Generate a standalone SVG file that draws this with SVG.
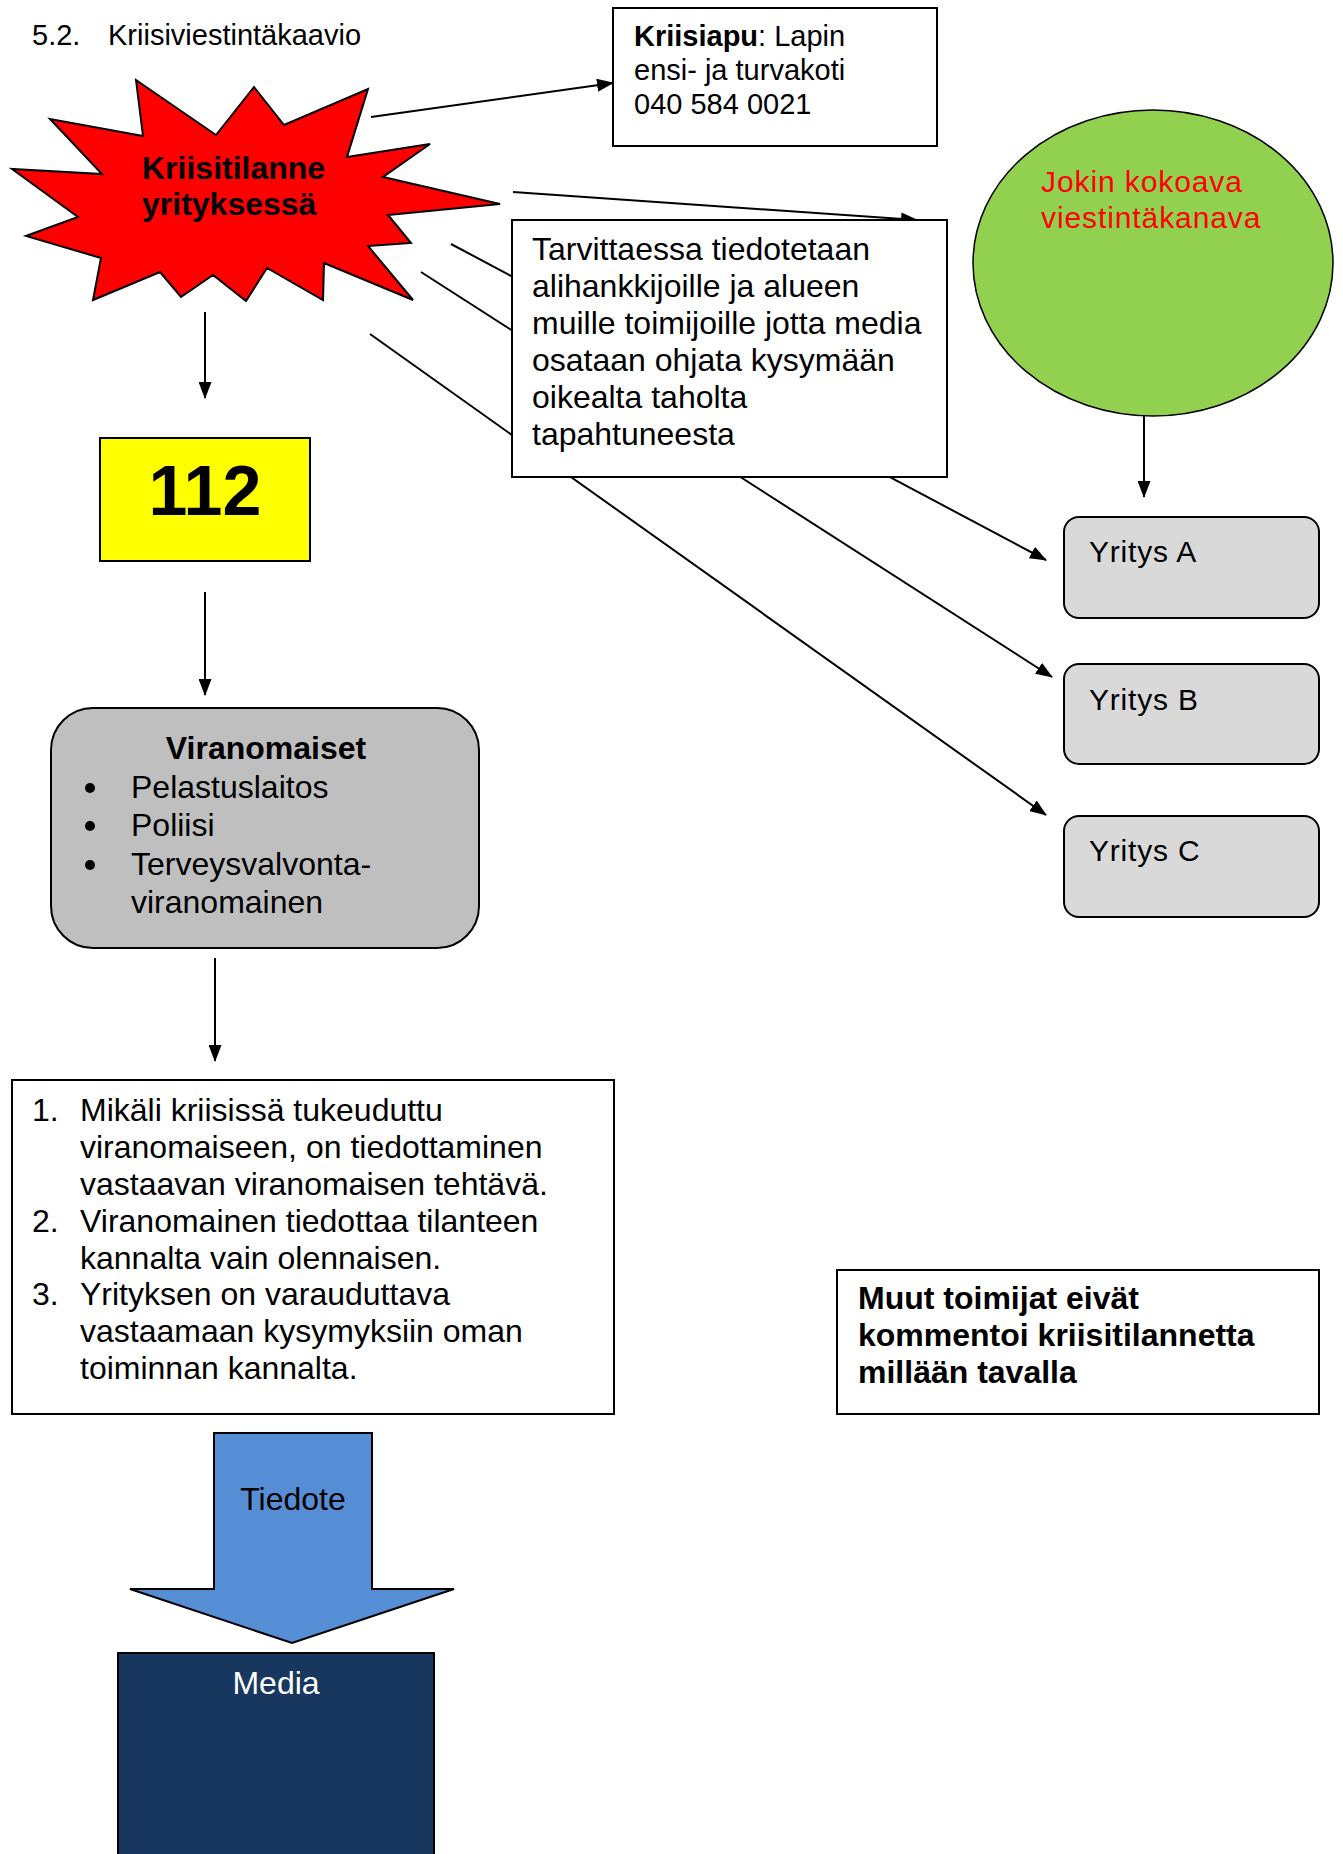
<svg xmlns="http://www.w3.org/2000/svg" width="1343" height="1854" viewBox="0 0 1343 1854">
<style>
text{font-family:"Liberation Sans",Arial,sans-serif;fill:#000}
.t{font-size:32px}
.b{font-weight:bold}
.box{fill:#fff;stroke:#000;stroke-width:2}
.con{stroke:#000;stroke-width:2;fill:none;marker-end:url(#ah)}
.yr{fill:#D9D9D9;stroke:#000;stroke-width:2}
</style>
<defs>
<marker id="ah" markerUnits="userSpaceOnUse" markerWidth="17" markerHeight="13" refX="16" refY="6.5" orient="auto">
<path d="M0,0 L17,6.5 L0,13 Z" fill="#000"/>
</marker>
</defs>
<rect width="1343" height="1854" fill="#fff"/>
<text x="32" y="45" style="font-size:29px">5.2.</text>
<text x="108" y="45" style="font-size:29px">Kriisiviestintäkaavio</text>

<g id="connectors">
<line class="con" x1="371" y1="117" x2="613" y2="83"/>
<line class="con" x1="513" y1="192" x2="917" y2="220"/>
<line class="con" x1="451" y1="244" x2="1046" y2="560"/>
<line class="con" x1="421" y1="272" x2="1052" y2="677"/>
<line class="con" x1="370" y1="334" x2="1046" y2="815"/>
<line class="con" x1="1144" y1="402" x2="1144" y2="497"/>
<line class="con" x1="205" y1="312" x2="205" y2="398"/>
<line class="con" x1="205" y1="592" x2="205" y2="695"/>
<line class="con" x1="215" y1="958" x2="215" y2="1061"/>
</g>

<g id="kriisitilanne">
<polygon points="136,80 143,136 50,119 102,174 12,169 78,217 26,236 101,258 93,300 160,272 181,297 213,275 246,301 267,268 323,300 324,263 413,300 368,246 411,243 388,215 500,204 383,177 430,144 347,157 368,89 284,125 254,87 216,135" fill="#FF0000" stroke="#000" stroke-width="2"/>
<text class="t b" x="142" y="179">Kriisitilanne</text>
<text class="t b" x="142" y="215">yrityksessä</text>
</g>

<g id="kriisiapu">
<rect class="box" x="613" y="8" width="324" height="138"/>
<text x="634" y="46" style="font-size:29px"><tspan font-weight="bold">Kriisiapu</tspan>: Lapin</text>
<text x="634" y="80" style="font-size:29px">ensi- ja turvakoti</text>
<text x="634" y="114" style="font-size:29px">040 584 0021</text>
</g>

<g id="tarvittaessa">
<rect class="box" x="512" y="220" width="435" height="257"/>
<text class="t" x="532" y="260">Tarvittaessa tiedotetaan</text>
<text class="t" x="532" y="297">alihankkijoille ja alueen</text>
<text class="t" x="532" y="334">muille toimijoille jotta media</text>
<text class="t" x="532" y="371">osataan ohjata kysymään</text>
<text class="t" x="532" y="408">oikealta taholta</text>
<text class="t" x="532" y="445">tapahtuneesta</text>
</g>

<g id="kanava">
<ellipse cx="1153" cy="263" rx="180" ry="153" fill="#92D050" stroke="#000" stroke-width="1.5"/>
<text x="1041" y="192" style="font-size:30px;fill:#FF0000;letter-spacing:0.9px">Jokin kokoava</text>
<text x="1041" y="228" style="font-size:30px;fill:#FF0000;letter-spacing:0.9px">viestintäkanava</text>
</g>

<g id="yritysA">
<rect class="yr" x="1064" y="517" width="255" height="101" rx="15"/>
<text x="1089" y="562" style="font-size:30px;letter-spacing:0.8px">Yritys A</text>
</g>
<g id="yritysB">
<rect class="yr" x="1064" y="664" width="255" height="100" rx="15"/>
<text x="1089" y="710" style="font-size:30px;letter-spacing:0.8px">Yritys B</text>
</g>
<g id="yritysC">
<rect class="yr" x="1064" y="816" width="255" height="101" rx="15"/>
<text x="1089" y="861" style="font-size:30px;letter-spacing:0.8px">Yritys C</text>
</g>

<g id="n112">
<rect x="100" y="438" width="210" height="123" fill="#FFFF00" stroke="#000" stroke-width="2"/>
<text x="205" y="515" text-anchor="middle" style="font-size:70px;font-weight:bold">112</text>
</g>

<g id="viranomaiset">
<rect x="51" y="708" width="428" height="240" rx="42" fill="#BFBFBF" stroke="#000" stroke-width="2"/>
<text class="t b" x="266" y="759" text-anchor="middle">Viranomaiset</text>
<circle cx="90" cy="788" r="5"/>
<circle cx="90" cy="826" r="5"/>
<circle cx="90" cy="865" r="5"/>
<text class="t" x="131" y="798">Pelastuslaitos</text>
<text class="t" x="131" y="836">Poliisi</text>
<text class="t" x="131" y="875">Terveysvalvonta-</text>
<text class="t" x="131" y="913">viranomainen</text>
</g>

<g id="ohjeet">
<rect class="box" x="12" y="1080" width="602" height="334"/>
<text class="t" x="32" y="1121">1.</text>
<text class="t" x="80" y="1121">Mikäli kriisissä tukeuduttu</text>
<text class="t" x="80" y="1158">viranomaiseen, on tiedottaminen</text>
<text class="t" x="80" y="1195">vastaavan viranomaisen tehtävä.</text>
<text class="t" x="32" y="1232">2.</text>
<text class="t" x="80" y="1232">Viranomainen tiedottaa tilanteen</text>
<text class="t" x="80" y="1269">kannalta vain olennaisen.</text>
<text class="t" x="32" y="1305">3.</text>
<text class="t" x="80" y="1305">Yrityksen on varauduttava</text>
<text class="t" x="80" y="1342">vastaamaan kysymyksiin oman</text>
<text class="t" x="80" y="1379">toiminnan kannalta.</text>
</g>

<g id="muut">
<rect class="box" x="837" y="1270" width="482" height="144"/>
<text class="t b" x="858" y="1309">Muut toimijat eivät</text>
<text class="t b" x="858" y="1346">kommentoi kriisitilannetta</text>
<text class="t b" x="858" y="1383">millään tavalla</text>
</g>

<g id="tiedote">
<path d="M214,1433 L372,1433 L372,1589 L454,1589 L292,1643 L130,1589 L214,1589 Z" fill="#558ED5" stroke="#000" stroke-width="2"/>
<text class="t" x="293" y="1510" text-anchor="middle">Tiedote</text>
</g>

<g id="media">
<rect x="118" y="1653" width="316" height="215" fill="#17375E" stroke="#000" stroke-width="2"/>
<text class="t" x="276" y="1694" text-anchor="middle" style="fill:#fff">Media</text>
</g>
</svg>
